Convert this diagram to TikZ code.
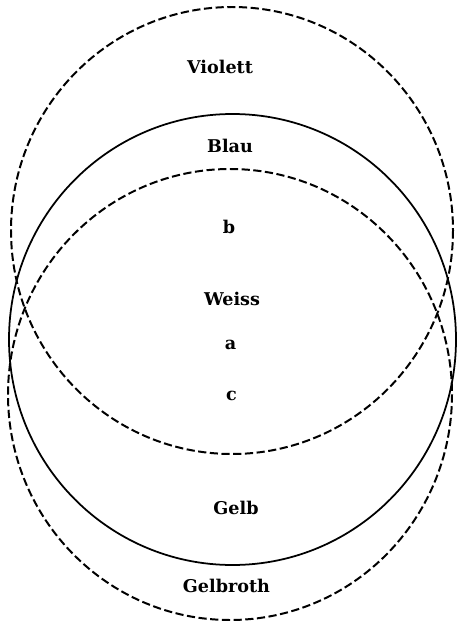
\documentclass[tikz,border=0pt]{standalone}
\usepackage{fontspec}
\newfontfamily\farbfont{DejaVu Serif}
\usepackage{tikz}

\begin{document}
\begin{tikzpicture}[x=0.03cm, y=-0.03cm,
  lbl/.style={font=\farbfont\bfseries\fontsize{15}{18}\selectfont, anchor=base, inner sep=0pt},
  ring/.style={line width=1.5pt},
  dashring/.style={line width=1.7pt, dash pattern=on 7pt off 3pt}]
  \useasboundingbox (0,0) rectangle (458,621);
  % the three circles
  \draw[dashring] (232,230.5) ellipse [x radius=221, y radius=223.5];
  \draw[ring] (232.5,339.5) ellipse [x radius=223.5, y radius=225.5];
  \draw[dashring] (230,394.5) ellipse [x radius=222, y radius=225.5];
  % labels
  \node[lbl] (violett) at (220,74) {Violett};
  \node[lbl] (blau) at (230,152) {Blau};
  \node[lbl] (b) at (229,233) {b};
  \node[lbl] (weiss) at (232,305) {Weiss};
  \node[lbl] (a) at (230.5,349) {a};
  \node[lbl] (c) at (231.5,400) {c};
  \node[lbl] (gelb) at (236,514) {Gelb};
  \node[lbl] (gelbroth) at (226.5,592) {Gelbroth};
\end{tikzpicture}
\end{document}
